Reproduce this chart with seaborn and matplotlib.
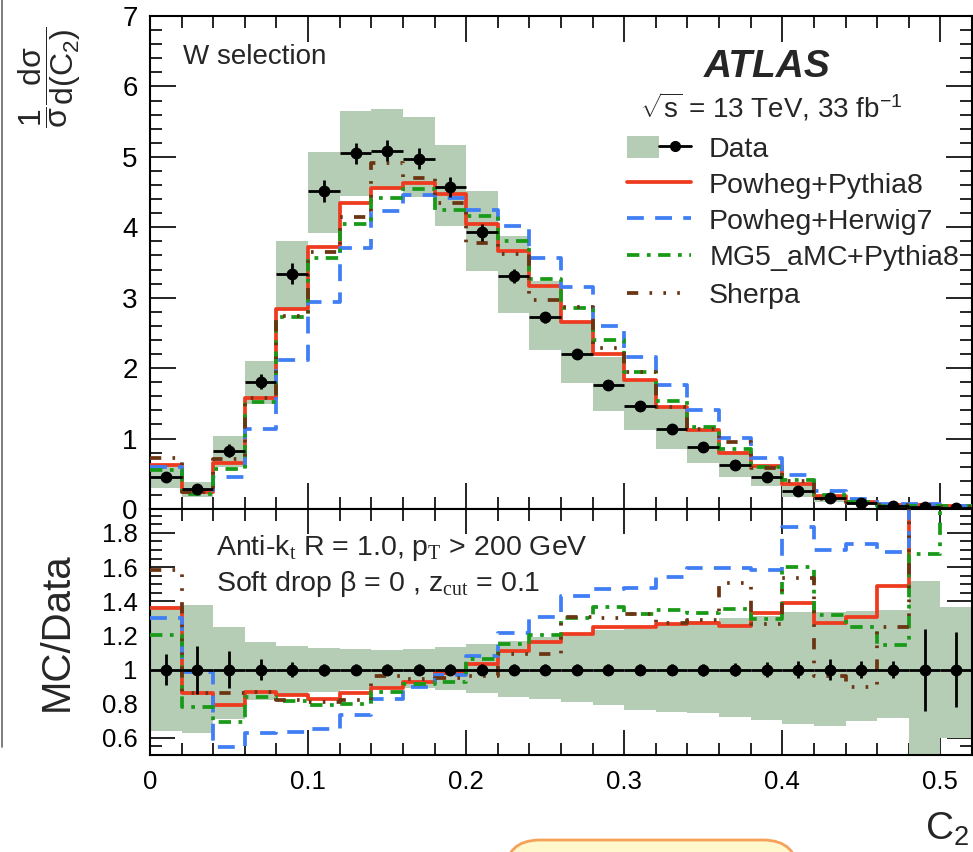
import numpy as np
import pandas as pd
import seaborn as sns
import matplotlib.pyplot as plt
import matplotlib.ticker as mtick
from matplotlib.lines import Line2D
from matplotlib.patches import Patch, FancyBboxPatch
from matplotlib.legend_handler import HandlerTuple

# Binning in C2 (26 bins of 0.02)
edges = np.linspace(0.0, 0.52, 27)
centers = 0.5 * (edges[:-1] + edges[1:])

# Unfolded data, 1/sigma dsigma/dC2
data = [0.46, 0.28, 0.83, 1.81, 3.34, 4.51, 5.05, 5.09, 4.97, 4.57, 3.93, 3.31, 2.72,
        2.20, 1.76, 1.46, 1.14, 0.88, 0.63, 0.46, 0.26, 0.15, 0.08, 0.04, 0.025, 0.015]
# relative stat. error of the data points
stat_rel = [0.09, 0.14, 0.11, 0.06, 0.045, 0.035, 0.03, 0.03, 0.03, 0.03, 0.03, 0.03, 0.03,
            0.03, 0.03, 0.03, 0.03, 0.035, 0.04, 0.045, 0.05, 0.06, 0.05, 0.05, 0.24, 0.22]
# total uncertainty band (relative to data)
band_up = [1.37, 1.38, 1.25, 1.16, 1.14, 1.125, 1.12, 1.115, 1.12, 1.13, 1.15, 1.17, 1.19,
           1.21, 1.23, 1.24, 1.26, 1.285, 1.30, 1.315, 1.335, 1.337, 1.34, 1.347, 1.52, 1.366]
band_dn = [0.64, 0.63, 0.71, 0.82, 0.85, 0.87, 0.88, 0.89, 0.89, 0.88, 0.86, 0.84, 0.83,
           0.81, 0.79, 0.765, 0.75, 0.745, 0.725, 0.705, 0.68, 0.67, 0.70, 0.715, 0.45, 0.60]

# MC predictions
pp8 = [0.626, 0.241, 0.656, 1.571, 2.846, 3.725, 4.343, 4.556, 4.622, 4.469, 4.048, 3.664, 3.163,
       2.662, 2.200, 1.825, 1.444, 1.119, 0.791, 0.612, 0.361, 0.1905, 0.1048, 0.0595, 0.060, 0.039]
ph7 = [0.598, 0.276, 0.452, 1.133, 2.121, 2.945, 3.712, 4.225, 4.458, 4.415, 4.244, 4.015, 3.563,
       3.146, 2.592, 2.161, 1.761, 1.404, 1.005, 0.727, 0.477, 0.255, 0.139, 0.0675, 0.065, 0.042]
mg5 = [0.552, 0.218, 0.573, 1.520, 2.722, 3.563, 4.040, 4.413, 4.548, 4.250, 4.166, 3.807, 3.272,
       2.860, 2.404, 1.939, 1.536, 1.170, 0.855, 0.596, 0.416, 0.198, 0.100, 0.0457, 0.0419, 0.0375]
sherpa = [0.729, 0.241, 0.716, 1.575, 2.739, 3.653, 4.141, 4.912, 4.697, 4.342, 3.773, 3.621, 2.965,
          2.871, 2.288, 1.939, 1.448, 1.135, 0.948, 0.584, 0.400, 0.144, 0.072, 0.050, 0.060, 0.0345]

mc = [
    ("Powheg+Pythia8", pp8, "#ee3a1f", "-"),
    ("Powheg+Herwig7", ph7, "#3f7ef5", (0, (4.5, 3.0))),
    ("MG5$\\_$aMC+Pythia8", mg5, "#189a18", (0, (3.3, 2.0, 1.0, 2.0))),
    ("Sherpa", sherpa, "#6b3514", (0, (3.0, 3.0, 0.7, 3.0, 0.7, 3.0, 0.7, 3.0))),
]
band_color = "#b4cdb4"

sns.set_theme(style="ticks")
plt.rcParams["font.family"] = ["Liberation Sans", "DejaVu Sans"]
plt.rcParams["mathtext.fontset"] = "custom"
plt.rcParams["mathtext.rm"] = "Liberation Sans"
plt.rcParams["mathtext.it"] = "Liberation Sans:italic"
plt.rcParams["mathtext.bf"] = "Liberation Sans:bold"
plt.rcParams["mathtext.tt"] = "Liberation Serif"
plt.rcParams["mathtext.default"] = "regular"

W, H = 973, 852
fig = plt.figure(figsize=(W / 100, H / 100), dpi=100)
ax1 = fig.add_axes([150 / W, 1 - 509 / H, 822 / W, 493 / H])
ax2 = fig.add_axes([150 / W, 1 - 755 / H, 822 / W, 246 / H])

d = np.array(data)
up = d * np.array(band_up)
dn = d * np.array(band_dn)
bins = list(edges)


def draw_step(ax, vals, col, ls):
    df = pd.DataFrame({"C2": centers, "w": vals})
    sns.histplot(data=df, x="C2", weights="w", bins=bins, element="step", fill=False,
                 color=col, linestyle=ls, linewidth=2.7, ax=ax, zorder=3)


# ---- top panel ----
ax1.fill_between(edges, np.append(dn, dn[-1]), np.append(up, up[-1]), step="post",
                 color=band_color, lw=0, zorder=1)
for name, vals, col, ls in mc:
    draw_step(ax1, vals, col, ls)
ax1.errorbar(centers, d, xerr=0.01, yerr=d * np.array(stat_rel), fmt="o", color="black",
             ms=7.5, elinewidth=2, capsize=0, zorder=5)

# ---- ratio panel ----
ax2.fill_between(edges, np.append(band_dn, band_dn[-1]), np.append(band_up, band_up[-1]),
                 step="post", color=band_color, lw=0, zorder=1)
for name, vals, col, ls in mc:
    draw_step(ax2, np.array(vals) / d, col, ls)
ax2.errorbar(centers, np.ones_like(d), xerr=0.01, yerr=stat_rel, fmt="o", color="black",
             ms=7.5, elinewidth=2, capsize=0, zorder=5)

# axes styling
for ax in (ax1, ax2):
    ax.set_xlim(0, 0.52)
    ax.set_xlabel("")
    ax.set_ylabel("")
    ax.xaxis.set_major_locator(mtick.MultipleLocator(0.1))
    ax.xaxis.set_minor_locator(mtick.MultipleLocator(0.02))
    ax.tick_params(which="both", direction="in", top=True, right=True, width=1.2, colors="black")
    for s in ax.spines.values():
        s.set_linewidth(1.5)
        s.set_color("black")

ax1.set_ylim(0, 7)
ax1.yaxis.set_major_locator(mtick.MultipleLocator(1))
ax1.yaxis.set_minor_locator(mtick.MultipleLocator(0.2))
ax1.tick_params(which="major", length=19, labelsize=20, pad=9)
ax1.tick_params(which="minor", length=8.5)
ax1.tick_params(axis="x", labelbottom=False)

ax2.set_ylim(0.5, 1.94)
ax2.set_yticks([0.6, 0.8, 1.0, 1.2, 1.4, 1.6, 1.8])
ax2.yaxis.set_minor_locator(mtick.MultipleLocator(0.05))
ax2.yaxis.set_major_formatter(mtick.FuncFormatter(lambda v, _: f"{v:g}"))
ax2.xaxis.set_major_formatter(mtick.FuncFormatter(lambda v, _: f"{v:g}"))
ax2.tick_params(which="major", length=18, labelsize=18.5, pad=9)
ax2.tick_params(axis="x", which="major", pad=11)
ax2.tick_params(which="minor", length=8.5)

# legend
handles = [(Patch(facecolor=band_color, edgecolor="none"),
            Line2D([], [], color="black", lw=2, marker="o", ms=7))]
labels = ["Data"]
for name, vals, col, ls in mc:
    handles.append(Line2D([], [], color=col, lw=2.7, linestyle=ls))
    labels.append(name)
ax1.legend(handles, labels, loc="upper left", bbox_to_anchor=((627 - 150) / 822, (509 - 136) / 493),
           frameon=False, fontsize=20.5, handlelength=2.25, handleheight=0.82, handletextpad=0.62,
           labelspacing=0.31, borderpad=0, borderaxespad=0,
           handler_map={tuple: HandlerTuple(ndivide=None)})


def fx(px):
    return px / W


def fy(py):
    return 1 - py / H


fig.text(fx(183), fy(57), "W selection", fontsize=20, va="center", ha="left")
fig.text(fx(767), fy(67), "ATLAS", fontsize=28, fontweight="bold", fontstyle="italic",
         va="center", ha="center")
fig.text(fx(771), fy(107), r"$\sqrt{s}$ = 13 TeV, 33 fb$^{-1}$", fontsize=20, va="center", ha="center")

fig.text(fx(216), fy(548), r"Anti-k$_{\mathtt{t}}$ R = 1.0, p$_{\mathtt{T}}$ > 200 GeV",
         fontsize=20.5, va="center", ha="left")
fig.text(fx(216), fy(584), r"Soft drop $\beta$ = 0 , z$_{\mathtt{cut}}$ = 0.1",
         fontsize=20.5, va="center", ha="left")

fig.text(fx(50), fy(77), r"$\dfrac{1}{\sigma}\dfrac{d\sigma}{d(C_2)}$", fontsize=23,
         rotation=90, va="center", ha="center")
fig.text(fx(57), fy(632), "MC/Data", fontsize=29, rotation=90, va="center", ha="center")
fig.text(fx(969), fy(829), r"C$_2$", fontsize=28, va="center", ha="right")

# overlay bits visible around the original figure
ov = fig.add_axes([0, 0, 1, 1], zorder=-1)
ov.set_xlim(0, W)
ov.set_ylim(H, 0)
ov.axis("off")
ov.plot([1.5, 1.5], [0, 747], color="#666666", lw=1.2)
ov.add_patch(FancyBboxPatch((505, 840), 293, 80, boxstyle="round,pad=0,rounding_size=35",
                            facecolor="#fff8cc", edgecolor="#f5a15a", lw=2))

fig.savefig("out.png", dpi=100)
